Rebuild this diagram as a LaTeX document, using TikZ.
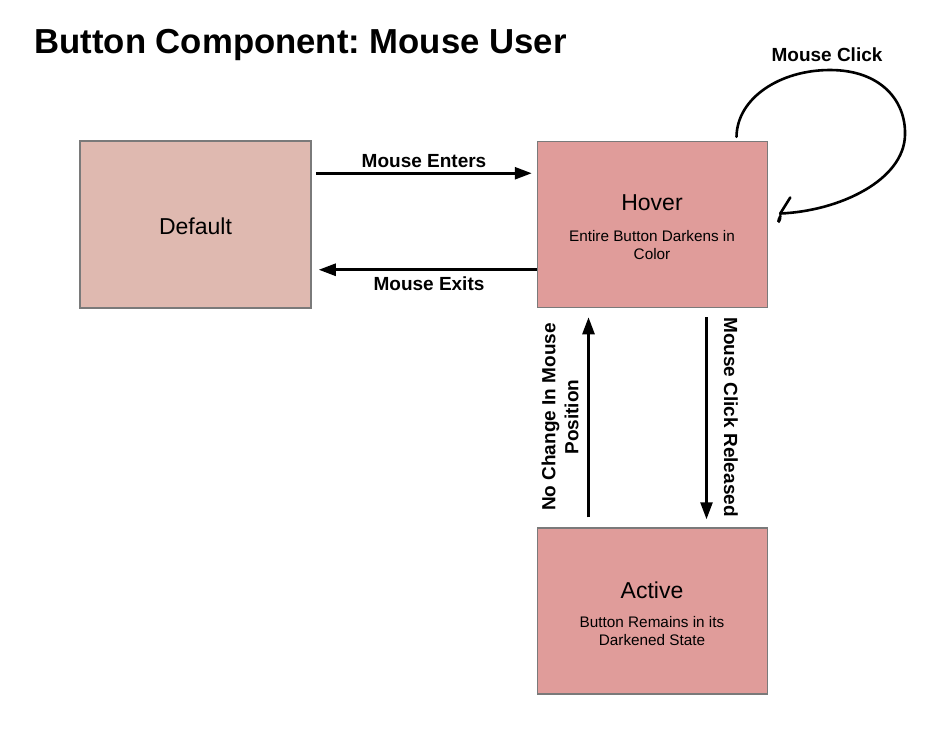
\documentclass[tikz,border=0pt]{standalone}
\usepackage{fontspec}
\setmainfont{Liberation Sans}
\usetikzlibrary{arrows.meta}
\frenchspacing
\definecolor{defaultfill}{HTML}{DFB9B0}
\definecolor{statefill}{HTML}{E09C9A}
\definecolor{boxline}{HTML}{7A7A7A}
\tikzset{
  statebox/.style={draw=boxline, line width=1.5pt, fill=statefill, minimum width=230pt, minimum height=166pt, inner sep=0pt},
  flow/.style={line width=2.6pt, -{Triangle[length=17pt,width=12pt]}},
  flowlabel/.style={font=\bfseries\fontsize{19}{23}\selectfont},
  statename/.style={font=\fontsize{23}{26}\selectfont},
  statenote/.style={font=\fontsize{15.3}{18}\selectfont, align=center}
}
\begin{document}
\begin{tikzpicture}[x=1pt,y=-1pt]
  \useasboundingbox[fill=white] (0,0) rectangle (952,732);

  % title
  \node[anchor=west, font=\bfseries\fontsize{34.7}{38}\selectfont] (title) at (31,45) {Button Component: Mouse User};

  % states
  \node[statebox, fill=defaultfill, minimum width=231pt, minimum height=167pt] (default) at (195.5,224.5) {};
  \node[statename] (defaulttxt) at (195.5,226) {Default};

  \node[statebox] (hover) at (652.5,224.5) {};
  \node[statename] (hovertxt) at (652,203) {Hover};
  \node[statenote] (hovernote) at (652,245) {Entire Button Darkens in\\Color};

  \node[statebox] (active) at (652.5,611) {};
  \node[statename] (activetxt) at (652,590) {Active};
  \node[statenote] (activenote) at (652,631) {Button Remains in its\\Darkened State};

  % default <-> hover
  \draw[flow] ([xshift=4pt,yshift=-33pt]default.north east) -- ([xshift=-5pt,yshift=-32.5pt]hover.north west);
  \node[flowlabel] (enterlbl) at (424,161) {Mouse Enters};
  \draw[flow] ([yshift=38.5pt]hover.south west) -- ([xshift=7pt,yshift=39pt]default.south east);
  \node[flowlabel] (exitlbl) at (429,284) {Mouse Exits};

  % hover <-> active
  \draw[flow] ([xshift=-64pt,yshift=10pt]active.north) -- ([xshift=-64pt,yshift=-9pt]hover.south);
  \node[flowlabel, rotate=90, align=center] (stillbl) at (560,417) {No Change In Mouse\\Position};
  \draw[flow] ([xshift=54pt,yshift=-9pt]hover.south) -- ([xshift=54pt,yshift=8pt]active.north);
  \node[flowlabel, rotate=-90] (releaselbl) at (731,417) {Mouse Click Released};

  % self loop on hover, with a hand-drawn barb at its end
  \coordinate (loopstart) at ([xshift=84pt,yshift=4pt]hover.north);
  \coordinate (loopend) at ([xshift=12pt,yshift=11pt]hover.east);
  \draw[line width=2.6pt, line cap=round] (loopstart)
      .. controls (737,98) and (780,70) .. (830,70)
      .. controls (880,70) and (906,100) .. (905,135)
      .. controls (904,180) and (840,211) .. (loopend);
  \draw[line width=2.6pt, line cap=round] (loopend) -- ++(10,-16);
  \draw[line width=2pt, line cap=round] (loopend) .. controls (782,222) and (775,226) .. (780,216);
  \node[flowlabel] (clicklbl) at (827,55) {Mouse Click};
\end{tikzpicture}
\end{document}
